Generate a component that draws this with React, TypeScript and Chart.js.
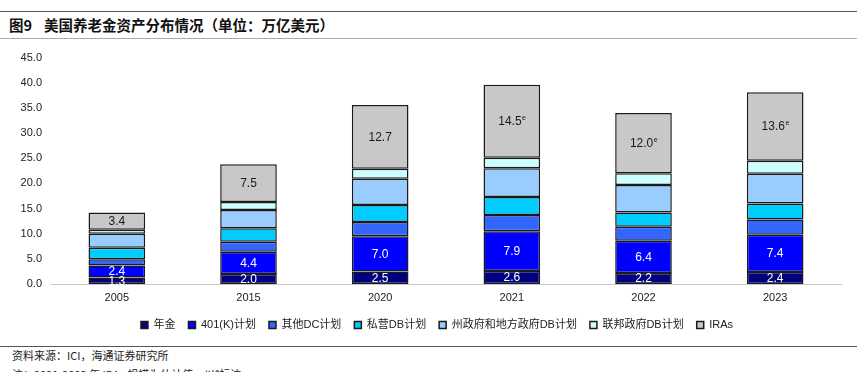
import React, { useEffect, useRef } from "react";
import { Chart, registerables } from "chart.js";

Chart.register(...registerables);

const categories = ["2005", "2015", "2020", "2021", "2022", "2023"];
const annuities = [1.3, 2.0, 2.5, 2.6, 2.2, 2.4];
const k401 = [2.4, 4.4, 7.0, 7.9, 6.4, 7.4];
const otherDC = [1.2, 2.0, 2.8, 3.2, 2.8, 3.0];
const privateDB = [2.3, 2.7, 3.4, 3.6, 2.8, 3.2];
const stateLocalDB = [2.8, 3.6, 5.2, 5.7, 5.5, 5.9];
const federalDB = [0.8, 1.6, 2.0, 2.1, 2.3, 2.6];
const iras = [3.4, 7.5, 12.7, 14.5, 12.0, 13.6];
const iraEstimated = [false, false, false, true, true, true];

const seriesNames = ["年金", "401(K)计划", "其他DC计划", "私营DB计划", "州政府和地方政府DB计划", "联邦政府DB计划", "IRAs"];
const seriesColors = ["#000080", "#0000FF", "#3366FF", "#00CCFF", "#99CCFF", "#CCFFFF", "#C8C8C8"];
const seriesValues = [annuities, k401, otherDC, privateDB, stateLocalDB, federalDB, iras];

const FONT = "'Liberation Sans', Arial, 'Noto Sans CJK SC', sans-serif";

const labelPlugin = {
  id: "segLabels",
  afterDatasetsDraw(chart: any) {
    const ctx = chart.ctx;
    const targets = [0, 1, 6];
    ctx.save();
    ctx.textBaseline = "middle";
    targets.forEach((di) => {
      const meta = chart.getDatasetMeta(di);
      meta.data.forEach((el: any, i: number) => {
        const v = seriesValues[di][i];
        const txt = v.toFixed(1);
        const cx = el.x;
        const cy = (el.y + el.base) / 2;
        ctx.fillStyle = di === 6 ? "#1a1a1a" : "#ffffff";
        ctx.font = `12px ${FONT}`;
        const w = ctx.measureText(txt).width;
        const sup = di === 6 && iraEstimated[i];
        let supW = 0;
        if (sup) {
          ctx.font = `7px ${FONT}`;
          supW = ctx.measureText("e").width;
          ctx.font = `12px ${FONT}`;
        }
        const start = cx - (w + supW) / 2;
        ctx.textAlign = "left";
        ctx.fillText(txt, start, cy + 0.5);
        if (sup) {
          ctx.font = `7px ${FONT}`;
          ctx.fillText("e", start + w + 0.5, cy - 3);
        }
      });
    });
    ctx.restore();
  },
};

// shift the legend row so it is centred like the reference
const legendShift = {
  id: "legendShift",
  afterLayout(chart: any) {
    const l = chart.legend;
    if (l) {
      l.left += 16.5;
      l.right += 16.5;
    }
  },
};

export default function App() {
  const ref = useRef<HTMLCanvasElement | null>(null);
  useEffect(() => {
    if (!ref.current) return;
    const chart = new Chart(ref.current, {
      type: "bar",
      data: {
        labels: categories,
        datasets: seriesNames.map((name, k) => ({
          label: name,
          data: seriesValues[k],
          backgroundColor: seriesColors[k],
          borderColor: "#1a1a1a",
          borderWidth: 1.5,
          borderSkipped: false,
          categoryPercentage: 1,
          barPercentage: 0.43,
        })),
      },
      options: {
        responsive: false,
        animation: false,
        devicePixelRatio: 1,
        layout: { padding: { top: 13, right: 16, bottom: 1.5, left: 0 } },
        plugins: {
          tooltip: { enabled: false },
          legend: {
            position: "bottom",
            labels: {
              boxWidth: 7,
              boxHeight: 7,
              padding: 13,
              color: "#222",
              font: { size: 11, family: FONT },
            },
          },
        },
        scales: {
          x: {
            stacked: true,
            grid: { display: false, drawTicks: false },
            border: { display: true, color: "#c8c8c8", width: 1 },
            ticks: { color: "#222", padding: 7, font: { size: 11, family: FONT } },
            afterFit: (s: any) => {
              s.height = 22.5;
            },
          },
          y: {
            stacked: true,
            min: 0,
            max: 45,
            grid: { display: false, drawTicks: false },
            border: { display: false },
            ticks: {
              stepSize: 5,
              color: "#222",
              padding: 9,
              font: { size: 11, family: FONT },
              callback: (v: any) => Number(v).toFixed(1),
            },
            afterFit: (s: any) => {
              s.width = 51;
            },
          },
        },
      },
      plugins: [labelPlugin, legendShift],
    } as any);
    return () => chart.destroy();
  }, []);

  return (
    <div
      style={{
        position: "fixed",
        left: 0,
        top: 0,
        width: 857,
        height: 372,
        background: "#fff",
        overflow: "hidden",
        fontFamily: FONT,
      }}
    >
      <div style={{ position: "absolute", left: 0, top: 11, width: 857, height: 1, background: "#555" }} />
      <div
        style={{
          position: "absolute",
          left: 9,
          top: 15,
          fontSize: 14.5,
          fontWeight: "bold",
          color: "#111",
          fontFamily: "'Noto Sans CJK SC', sans-serif",
          whiteSpace: "nowrap",
          lineHeight: "20px",
        }}
      >
        图9<span style={{ marginLeft: 12 }}>美国养老金资产分布情况（单位：万亿美元）</span>
      </div>
      <div style={{ position: "absolute", left: 0, top: 38, width: 857, height: 1, background: "#aaa" }} />
      <canvas ref={ref} width={857} height={300} style={{ position: "absolute", left: 0, top: 42 }} />
      <div style={{ position: "absolute", left: 0, top: 346, width: 857, height: 1, background: "#555" }} />
      <div
        style={{
          position: "absolute",
          left: 12,
          top: 347,
          fontSize: 11,
          color: "#222",
          fontFamily: "'Noto Sans CJK SC', sans-serif",
          whiteSpace: "nowrap",
          lineHeight: "16px",
        }}
      >
        资料来源：ICI，海通证券研究所
        <br />
        注：2021-2023 年 IRAs 规模为估计值，以<sup style={{ fontSize: 7 }}>e</sup>标注
      </div>
    </div>
  );
}
